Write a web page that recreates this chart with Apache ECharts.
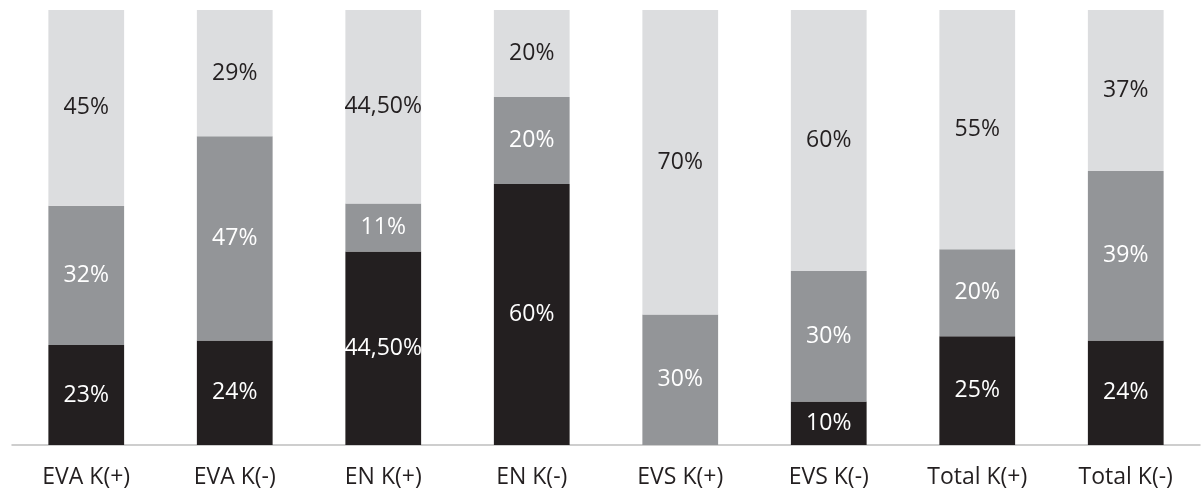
<!DOCTYPE html>
<html>
<head>
<meta charset="utf-8">
<script src="https://cdn.jsdelivr.net/npm/echarts@6/dist/echarts.min.js"></script>
<style>html,body{margin:0;padding:0;background:#fff;}#c{width:1203px;height:497px;}</style>
</head>
<body>
<div id="c"></div>
<script>
const categories = ['EVA K(+)', 'EVA K(-)', 'EN K(+)', 'EN K(-)', 'EVS K(+)', 'EVS K(-)', 'Total K(+)', 'Total K(-)'];
const seriesBottom = [23, 24, 44.5, 60, 0, 10, 25, 24];
const seriesMiddle = [32, 47, 11, 20, 30, 30, 20, 39];
const seriesTop = [45, 29, 44.5, 20, 70, 60, 55, 37];

const fmt = p => {
  if (!p.value) return '';
  const v = p.value;
  return (Number.isInteger(v) ? String(v) : v.toFixed(2).replace('.', ',')) + '%';
};
const font = '"Open Sans", "Noto Sans", sans-serif';
function mk(name, data, color, labelColor) {
  return {
    name, type: 'bar', stack: 'all', data, barWidth: '51%',
    itemStyle: { color },
    label: { show: true, position: ['50%', '50%'], align: 'center', verticalAlign: 'middle', offset: [0, 5], formatter: fmt, color: labelColor, fontSize: 23, fontFamily: font },
    labelLayout: { hideOverlap: false },
    emphasis: { disabled: true }
  };
}
const chart = echarts.init(document.getElementById('c'));
chart.setOption({
  animation: false,
  grid: { left: 12, right: 3, top: 10, bottom: 52, containLabel: false },
  xAxis: {
    type: 'category', data: categories,
    axisLine: { lineStyle: { color: '#bfbfbf', width: 1.5 } },
    axisTick: { show: false },
    axisLabel: { color: '#231f20', fontSize: 23, fontFamily: font, margin: 21 }
  },
  yAxis: { type: 'value', min: 0, max: 100, show: false, splitLine: { show: false } },
  series: [
    mk('bottom', seriesBottom, '#231f20', '#ffffff'),
    mk('middle', seriesMiddle, '#939598', '#ffffff'),
    mk('top', seriesTop, '#dcdddf', '#231f20')
  ]
});
</script>
</body>
</html>
